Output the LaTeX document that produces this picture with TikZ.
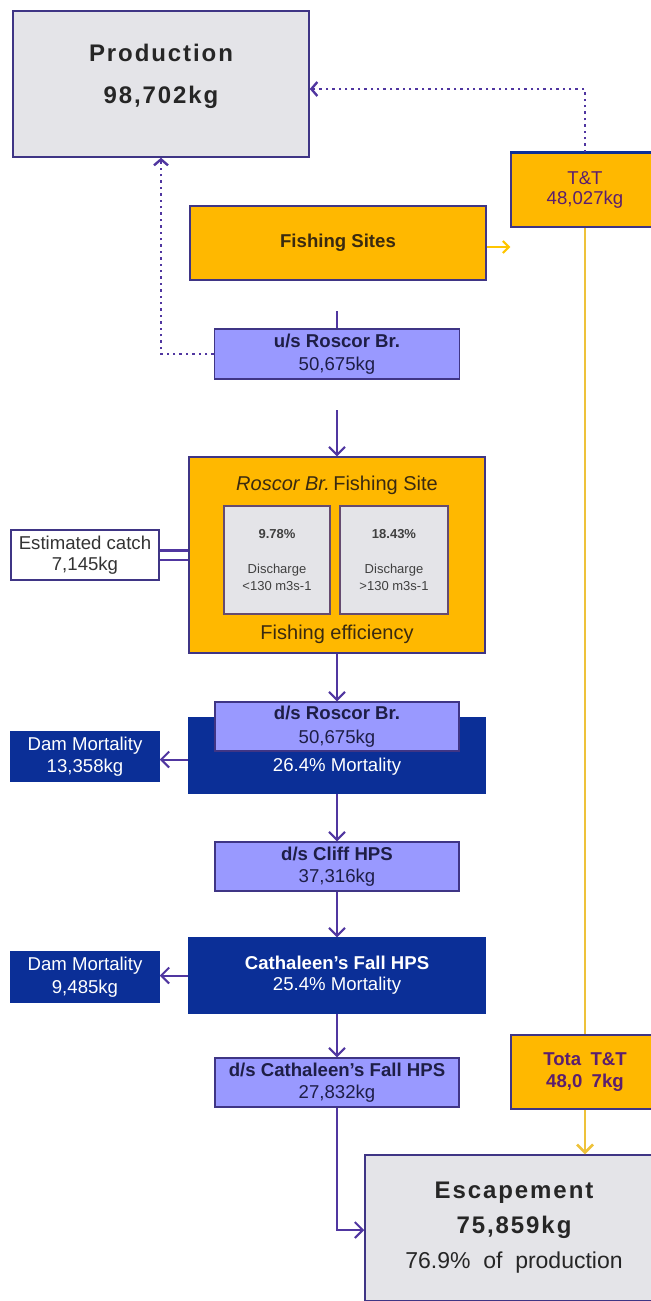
\documentclass[tikz,border=0pt]{standalone}
\usepackage{fontspec}
\setmainfont{Liberation Sans}
\newfontfamily\spacedfont{Liberation Sans}[LetterSpace=8]
\usetikzlibrary{arrows.meta,positioning}
\definecolor{Frame}{HTML}{3F3585}
\definecolor{Sheet}{HTML}{E4E4E8}
\definecolor{Amber}{HTML}{FFB800}
\definecolor{Lilac}{HTML}{9999FF}
\definecolor{Navy}{HTML}{0B2F97}
\definecolor{Flow}{HTML}{5036A0}
\definecolor{Gold}{HTML}{EEC23A}
\definecolor{Plum}{HTML}{5B1E6E}
\definecolor{Ink}{HTML}{1E1E46}
\definecolor{Umber}{HTML}{3A2A10}

\begin{document}
\begin{tikzpicture}[x=0.5pt,y=-0.5pt,
  box/.style={draw=Frame,line width=0.75pt,inner sep=1pt,align=center,
    font=\fontsize{9.3}{11.3}\selectfont},
  grey/.style={box,fill=Sheet},
  amber/.style={box,fill=Amber,text=Umber},
  lilac/.style={box,fill=Lilac,text=Ink},
  navy/.style={box,fill=Navy,draw=Navy,text=white},
  big/.style={font=\spacedfont\bfseries\fontsize{12}{21}\selectfont,align=center,text=black!85},
  flow/.style={draw=Flow,line width=1pt,-{Straight Barb[length=4pt,width=8pt]}},
  feed/.style={draw=Gold,line width=1.25pt},
  trace/.style={draw=Flow,line width=1.2pt,dotted}
]
  \useasboundingbox (0,0) rectangle (650,1301);

  % top row
  \node[grey,minimum width=148pt,minimum height=73pt] (prod) at (161,84) {};
  \node[big] (prodlbl) at ([yshift=4pt]prod.center) {Production\\98,702kg};
  \node[amber,text=Plum,minimum width=74pt,minimum height=37pt,font=\fontsize{9.3}{10}\selectfont] (tt) at (585,190) {T\&T\\48,027kg};
  \draw[Navy,line width=1.5pt] (tt.north west) -- (tt.north east);
  \node[amber,minimum width=148pt,minimum height=37pt,font=\bfseries\fontsize{9.3}{11}\selectfont] (fish) at (338,243) {Fishing Sites};
  \node[lilac,minimum width=122.5pt,minimum height=25pt] (us) at (337,354) {\textbf{u/s Roscor Br.}\\50,675kg};

  % fishing site
  \node[amber,minimum width=148pt,minimum height=98pt] (site) at (337,555) {};
  \node[text=Umber,font=\fontsize{10}{12}\selectfont] (sitetitle) at (337,485) {\textit{Roscor Br.}\,Fishing Site};
  \node[grey,draw=Frame!70!brown,minimum width=53pt,minimum height=54pt,font=\fontsize{6.5}{8.5}\selectfont,text=black!75] (low) at (277,560) {\textbf{9.78\%}\\[9pt]Discharge\\<130 m3s-1};
  \node[grey,draw=Frame!70!brown,minimum width=54pt,minimum height=54pt,font=\fontsize{6.5}{8.5}\selectfont,text=black!75] (high) at (394,560) {\textbf{18.43\%}\\[9pt]Discharge\\>130 m3s-1};
  \node[text=Umber,font=\fontsize{10}{12}\selectfont] (sitefoot) at (337,634) {Fishing efficiency};
  \node[box,fill=white,text=black!80,minimum width=74pt,minimum height=25pt,font=\fontsize{9.3}{10.5}\selectfont] (catch) at (85,555) {Estimated catch\\7,145kg};

  % dams
  \node[navy,minimum width=148pt,minimum height=37.5pt] (mort1) at (337,755.5) {};
  \node[text=white,font=\fontsize{9.3}{11}\selectfont] (mort1lbl) at (337,767) {26.4\% Mortality};
  \node[lilac,minimum width=122pt,minimum height=24.5pt,font=\fontsize{9.3}{12}\selectfont] (ds1) at (337,726.5) {\textbf{d/s Roscor Br.}\\50,675kg};
  \node[navy,minimum width=74pt,minimum height=24.5pt] (dam1) at (85,756.5) {Dam Mortality\\13,358kg};
  \node[lilac,minimum width=122pt,minimum height=24.5pt] (cliff) at (337,866.5) {\textbf{d/s Cliff HPS}\\37,316kg};
  \node[navy,minimum width=148pt,minimum height=37.5pt,font=\fontsize{9.3}{10.5}\selectfont] (mort2) at (337,975.5) {\textbf{Cathaleen’s Fall HPS}\\25.4\% Mortality};
  \node[navy,minimum width=74pt,minimum height=25pt] (dam2) at (85,977) {Dam Mortality\\9,485kg};
  \node[lilac,minimum width=122pt,minimum height=24.5pt] (dscath) at (337,1082.5) {\textbf{d/s Cathaleen’s Fall HPS}\\27,832kg};

  % bottom
  \node[amber,text=Plum,minimum width=74pt,minimum height=37pt,font=\bfseries\fontsize{9.3}{11}\selectfont] (tota) at (585,1072) {Tota\enspace T\&T\\48,0\enspace 7kg};
  \node[grey,minimum width=149pt,minimum height=73pt] (esc) at (514,1228) {};
  \node[big,font=\spacedfont\bfseries\fontsize{12}{17.5}\selectfont] (esclbl) at (esc.center) {Escapement\\75,859kg\\{\rmfamily\mdseries\fontsize{11.5}{17.5}\selectfont 76.9\%\ \ of\ \ production}};

  % connectors
  \coordinate (usin) at (337,311);
  \coordinate (sitein) at (337,410);
  \draw[trace,-{Straight Barb[length=3pt,width=7pt]}] (tt.north) |- ([yshift=-2.5pt]prod.east);
  \draw[trace,-{Straight Barb[length=3pt,width=7pt]}] (us.west) -| (prod.south);
  \draw[draw=Amber!80!yellow,line width=1pt,-{Straight Barb[length=3pt,width=6pt]}] ([yshift=-2pt]fish.east) -- ([yshift=-2pt]fish.east -| tt.west);
  \draw[feed] (tt.south) -- (tota.north);
  \draw[feed,-{Straight Barb[length=4pt,width=8pt]}] (tota.south) -- (tota.south |- esc.north);
  \draw[draw=Flow,line width=1pt] (usin) -- (us.north);
  \draw[flow] (sitein) -- (site.north);
  \draw[draw=Flow,line width=1.3pt,double=white,double distance=3.5pt] (catch.east) -- (catch.east -| site.west);
  \draw[flow] (site.south) -- (ds1.north);
  \draw[flow] ([yshift=-2pt]mort1.west) -- ([yshift=-2pt]mort1.west -| dam1.east);
  \draw[flow] (mort1.south) -- (cliff.north);
  \draw[flow] (cliff.south) -- (mort2.north);
  \draw[flow] (mort2.west) -- (mort2.west -| dam2.east);
  \draw[flow] (mort2.south) -- (dscath.north);
  \draw[flow] (dscath.south) |- ([yshift=-1pt]esc.west);
\end{tikzpicture}
\end{document}
